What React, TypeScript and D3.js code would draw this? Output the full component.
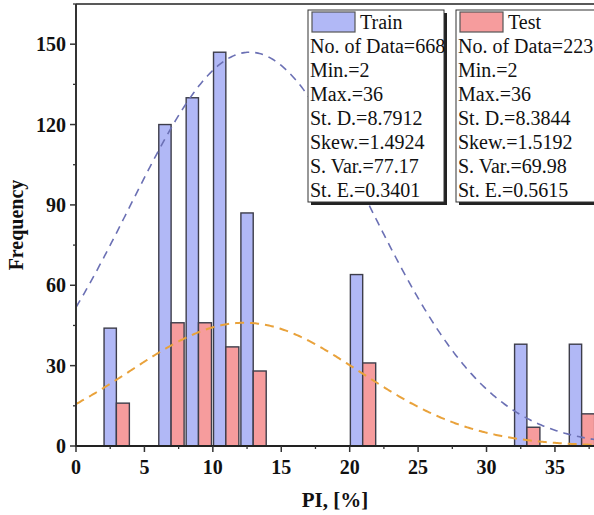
import React from "react";
import * as d3 from "d3";

const binStarts = [2, 6, 8, 10, 12, 20, 32, 36];
const trainCounts = [44, 120, 130, 147, 87, 64, 38, 38];
const testCounts = [16, 46, 46, 37, 28, 31, 7, 12];
const xTicks = [0, 5, 10, 15, 20, 25, 30, 35];
const yTicks = [0, 30, 60, 90, 120, 150];
const trainCurve = { mean: 12.7, sd: 8.7912, peak: 147 };
const testCurve = { mean: 12.3, sd: 8.3844, peak: 46 };
const trainStats = ["No. of Data=668", "Min.=2", "Max.=36", "St. D.=8.7912", "Skew.=1.4924", "S. Var.=77.17", "St. E.=0.3401"];
const testStats = ["No. of Data=223", "Min.=2", "Max.=36", "St. D.=8.3844", "Skew.=1.5192", "S. Var.=69.98", "St. E.=0.5615"];

const W = 594, H = 515;
const BLUE = "#b1b8f6";
const RED = "#f69c9d";
const BAR_STROKE = "#3d3d4a";
const BLUE_LINE = "#6b70b4";
const ORANGE_LINE = "#e9a23b";
const SERIF = "'Liberation Serif', 'Times New Roman', serif";

export default function App() {
  const x = d3.scaleLinear().domain([0, 38]).range([76, 596]);
  const y = d3.scaleLinear().domain([0, 165]).range([446, 4]);
  const xs = d3.range(0, 38.01, 0.1);
  const curve = (c: { mean: number; sd: number; peak: number }) =>
    d3.line<number>()
      .x((v) => x(v))
      .y((v) => y(c.peak * Math.exp(-((v - c.mean) ** 2) / (2 * c.sd * c.sd))))(xs) || "";
  const minorX = d3.range(2.5, 38, 5);
  const minorY = d3.range(15, 166, 30);

  const legend = (lx: number, label: string, fill: string, stats: string[], rw: number) => (
    <g>
      <rect x={lx + 3} y={13} width={rw} height={192} fill="#222" />
      <rect x={lx} y={10} width={rw} height={192} fill="#fff" stroke="#333" strokeWidth={1} />
      <rect x={lx + 4} y={12} width={43} height={20} fill={fill} stroke="#555" strokeWidth={1.2} />
      <text x={lx + 52} y={29} fontFamily={SERIF} fontSize={20} fill="#111">{label}</text>
      {stats.map((s, i) => (
        <text key={i} x={lx + 2} y={53 + 24 * i} fontFamily={SERIF} fontSize={20} fill="#111">{s}</text>
      ))}
    </g>
  );

  return (
    <svg width={W} height={H} style={{ position: "absolute", left: 0, top: 0, background: "#fff" }}>
      <rect x={0} y={0} width={W} height={H} fill="#fff" />
      {binStarts.map((b, i) => (
        <g key={i}>
          <rect x={x(b + 0.05)} y={y(trainCounts[i])} width={x(b + 0.95) - x(b + 0.05)} height={y(0) - y(trainCounts[i])}
            fill={BLUE} stroke={BAR_STROKE} strokeWidth={1.4} />
          <rect x={x(b + 0.95)} y={y(testCounts[i])} width={x(b + 1.9) - x(b + 0.95)} height={y(0) - y(testCounts[i])}
            fill={RED} stroke={BAR_STROKE} strokeWidth={1.4} />
        </g>
      ))}
      <path d={curve(trainCurve)} fill="none" stroke={BLUE_LINE} strokeWidth={1.6} strokeDasharray="8,6" />
      <path d={curve(testCurve)} fill="none" stroke={ORANGE_LINE} strokeWidth={2} strokeDasharray="9,6" />
      <line x1={76} x2={W} y1={4} y2={4} stroke="#222" strokeWidth={1.5} />
      <line x1={76} x2={76} y1={4} y2={447} stroke="#333" strokeWidth={2} />
      <line x1={75} x2={W} y1={446} y2={446} stroke="#222" strokeWidth={2} />
      {xTicks.map((t) => (
        <g key={t}>
          <line x1={x(t)} x2={x(t)} y1={446} y2={452} stroke="#333" strokeWidth={1.5} />
          <text x={x(t)} y={474} textAnchor="middle" fontFamily={SERIF} fontWeight="bold" fontSize={20} fill="#111">{t}</text>
        </g>
      ))}
      {minorX.map((t) => (
        <line key={t} x1={x(t)} x2={x(t)} y1={446} y2={449} stroke="#333" strokeWidth={1.3} />
      ))}
      {yTicks.map((t) => (
        <g key={t}>
          <line x1={70} x2={76} y1={y(t)} y2={y(t)} stroke="#333" strokeWidth={1.5} />
          <text x={66} y={y(t) + 7} textAnchor="end" fontFamily={SERIF} fontWeight="bold" fontSize={20} fill="#111">{t}</text>
        </g>
      ))}
      {minorY.map((t) => (
        <line key={t} x1={73} x2={76} y1={y(t)} y2={y(t)} stroke="#333" strokeWidth={1.3} />
      ))}
      <text x={335} y={507} textAnchor="middle" fontFamily={SERIF} fontWeight="bold" fontSize={21} fill="#111">PI, [%]</text>
      <text transform="translate(23,225) rotate(-90)" textAnchor="middle" fontFamily={SERIF} fontWeight="bold" fontSize={20} fill="#111">Frequency</text>
      {legend(308, "Train", BLUE, trainStats, 136)}
      {legend(456, "Test", RED, testStats, 140)}
    </svg>
  );
}
